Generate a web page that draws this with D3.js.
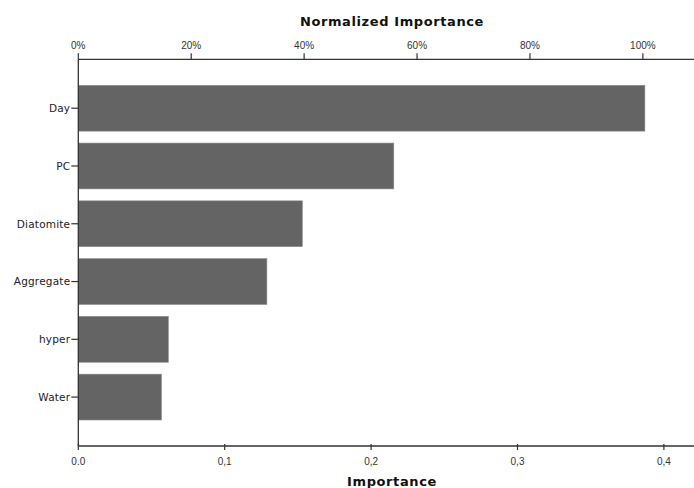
<!DOCTYPE html>
<html><head><meta charset="utf-8">
<script src="https://cdn.jsdelivr.net/npm/d3@7"></script>
<style>body{margin:0;background:#fff}svg{display:block}</style>
</head><body><svg id="c" width="694" height="488"></svg>
<script>
const categories = ["Day","PC","Diatomite","Aggregate","hyper","Water"];
const importance = [0.387,0.2155,0.153,0.1288,0.0615,0.0568];
const importanceTicks = [0,0.1,0.2,0.3,0.4];
const importanceTickLabels = ["0.0","0,1","0,2","0,3","0,4"];
const normTicks = [0,20,40,60,80,100];
const normTickLabels = ["0%","20%","40%","60%","80%","100%"];

(function(){
const svg = d3.select("#c");
const x0 = 78.3, plotTop = 59.3, plotBottom = 446;
const x = d3.scaleLinear().domain([0,0.4]).range([x0, x0 + 0.4*1464]);
const maxImp = d3.max(importance);
const xn = d3.scaleLinear().domain([0,100]).range([x0, x(maxImp) - 2]);
const y = d3.scaleBand().domain(categories).range([plotTop, plotBottom]).paddingInner(0.207).paddingOuter(0.45);

const font = "'Liberation Sans', Arial, sans-serif";
const wide = "'DejaVu Sans', Verdana, sans-serif";

svg.append("g").selectAll("rect").data(categories).join("rect")
  .attr("x", x(0)).attr("y", d => y(d))
  .attr("width", (d,i) => x(importance[i]) - x(0))
  .attr("height", y.bandwidth())
  .attr("fill", "#646464").attr("stroke", "#8a8a8a").attr("stroke-width", 0.6);

// bottom axis
const gb = svg.append("g").attr("transform", `translate(0,${plotBottom})`);
gb.append("line").attr("x1", x0).attr("x2", 694).attr("stroke", "#333").attr("stroke-width", 1.3);
gb.selectAll("line.t").data(importanceTicks).join("line").attr("class","t")
  .attr("x1", d => x(d)).attr("x2", d => x(d)).attr("y1", -2).attr("y2", 4)
  .attr("stroke", "#333").attr("stroke-width", 1.2);
gb.selectAll("text").data(importanceTicks).join("text")
  .attr("x", d => x(d)).attr("y", 19).attr("text-anchor","middle")
  .attr("font-family", font).attr("font-size", 10).attr("fill", "#333")
  .text((d,i) => importanceTickLabels[i]);

// top axis
const gt = svg.append("g").attr("transform", `translate(0,${plotTop})`);
gt.append("line").attr("x1", x0).attr("x2", 694).attr("stroke", "#333").attr("stroke-width", 1.3);
gt.selectAll("line.t").data(normTicks).join("line").attr("class","t")
  .attr("x1", d => xn(d)).attr("x2", d => xn(d)).attr("y1", -6).attr("y2", 0)
  .attr("stroke", "#333").attr("stroke-width", 1.2);
gt.selectAll("text").data(normTicks).join("text")
  .attr("x", d => xn(d)).attr("y", -10).attr("text-anchor","middle")
  .attr("font-family", font).attr("font-size", 10).attr("fill", "#333")
  .text((d,i) => normTickLabels[i]);

// left axis
const gl = svg.append("g");
gl.append("line").attr("x1", x0).attr("x2", x0).attr("y1", plotTop).attr("y2", plotBottom)
  .attr("stroke", "#333").attr("stroke-width", 1.3);
gl.selectAll("line.t").data(categories).join("line").attr("class","t")
  .attr("x1", x0 - 7).attr("x2", x0).attr("y1", d => y(d) + y.bandwidth()/2).attr("y2", d => y(d) + y.bandwidth()/2)
  .attr("stroke", "#333").attr("stroke-width", 1.2);
gl.selectAll("text").data(categories).join("text")
  .attr("x", x0 - 8).attr("y", d => y(d) + y.bandwidth()/2 + 3.8).attr("text-anchor","end")
  .attr("font-family", wide).attr("font-size", 10.5).attr("letter-spacing", 0.2).attr("fill", "#222")
  .text(d => d);

// titles
svg.append("text").attr("x", 392).attr("y", 26).attr("text-anchor","middle")
  .attr("font-family", wide).attr("font-weight","bold").attr("font-size", 13).attr("letter-spacing", 0.6)
  .attr("fill","#111").text("Normalized Importance");
svg.append("text").attr("x", 392).attr("y", 486).attr("text-anchor","middle")
  .attr("font-family", wide).attr("font-weight","bold").attr("font-size", 13).attr("letter-spacing", 0.6)
  .attr("fill","#111").text("Importance");
})();
</script></body></html>
